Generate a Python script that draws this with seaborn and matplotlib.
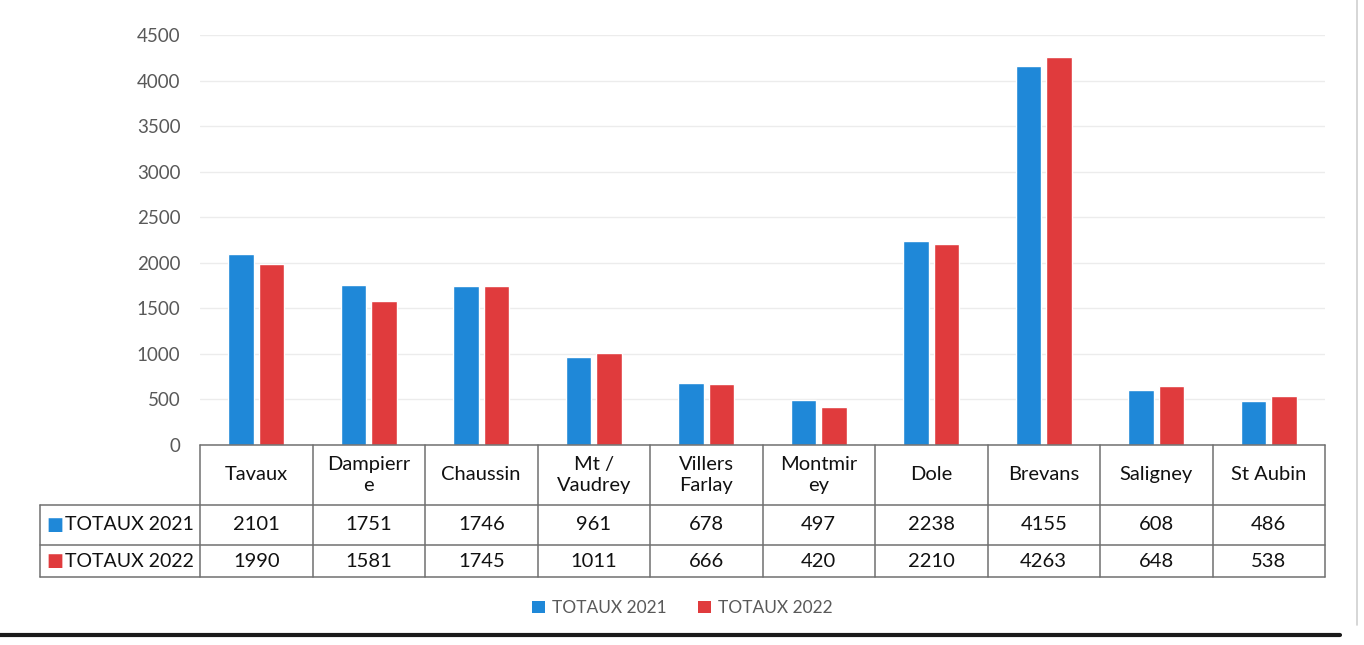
import matplotlib
matplotlib.use("Agg")
import matplotlib.pyplot as plt
import matplotlib.transforms as mtransforms
from matplotlib.lines import Line2D
from matplotlib.patches import Patch
import seaborn as sns
import pandas as pd

categories = ["Tavaux", "Dampierr\ne", "Chaussin", "Mt /\nVaudrey", "Villers\nFarlay",
              "Montmir\ney", "Dole", "Brevans", "Saligney", "St Aubin"]
series_names = ["TOTAUX 2021", "TOTAUX 2022"]
totaux_2021 = [2101, 1751, 1746, 961, 678, 497, 2238, 4155, 608, 486]
totaux_2022 = [1990, 1581, 1745, 1011, 666, 420, 2210, 4263, 648, 538]
y_ticks = [0, 500, 1000, 1500, 2000, 2500, 3000, 3500, 4000, 4500]

colors = ["#1F88D8", "#E03B3D"]

sns.set_theme(style="white")
plt.rcParams["font.family"] = ["Lato", "DejaVu Sans"]

df = pd.DataFrame({
    "cat": categories * 2,
    "serie": [series_names[0]] * len(categories) + [series_names[1]] * len(categories),
    "val": totaux_2021 + totaux_2022,
})

fig = plt.figure(figsize=(13.64, 6.45), dpi=100)
fig.patch.set_facecolor("white")
ax = fig.add_axes([200 / 1364, 200 / 645, 1125 / 1364, 410 / 645])

sns.barplot(data=df, x="cat", y="val", hue="serie", hue_order=series_names,
            order=categories, palette=colors, width=0.54, gap=0.16,
            saturation=1, legend=False, ax=ax, errorbar=None)

ax.set_xlim(-0.5, len(categories) - 0.5)
ax.set_ylim(0, 4500)
ax.set_yticks(y_ticks)
ax.set_yticklabels([str(t) for t in y_ticks], color="#595959", fontsize=13.5)
ax.tick_params(axis="y", length=0, pad=14)
ax.set_xticks([])
ax.set_xlabel("")
ax.set_ylabel("")
for s in ax.spines.values():
    s.set_visible(False)
ax.yaxis.grid(True, color="#ececec", linewidth=1)
ax.set_axisbelow(True)

# data table below the plot
tr = mtransforms.blended_transform_factory(ax.transData, ax.transAxes)
n = len(categories)
y_top = 0.0
y_head = -0.1463
y_r1 = -0.2439
y_r2 = -0.322
x_left_lab = -1.922
lc = "#707070"
lw = 1.1

def hline(x0, x1, y):
    ax.add_line(Line2D([x0, x1], [y, y], transform=tr, color=lc, lw=lw, clip_on=False))

def vline(x, y0, y1):
    ax.add_line(Line2D([x, x], [y0, y1], transform=tr, color=lc, lw=lw, clip_on=False))

hline(-0.5, n - 0.5, y_top)
hline(x_left_lab, n - 0.5, y_head)
hline(x_left_lab, n - 0.5, y_r1)
hline(x_left_lab, n - 0.5, y_r2)
for i in range(n + 1):
    vline(i - 0.5, y_top, y_r2)
vline(x_left_lab, y_head, y_r2)

fs = 14.5
for i, c in enumerate(categories):
    ax.text(i, (y_top + y_head) / 2, c, transform=tr, ha="center", va="center",
            fontsize=fs, color="#111111", linespacing=1.35)
    ax.text(i, (y_head + y_r1) / 2, str(totaux_2021[i]), transform=tr, ha="center",
            va="center", fontsize=fs, color="#111111")
    ax.text(i, (y_r1 + y_r2) / 2, str(totaux_2022[i]), transform=tr, ha="center",
            va="center", fontsize=fs, color="#111111")

for name, col, (ya, yb) in zip(series_names, colors, [(y_head, y_r1), (y_r1, y_r2)]):
    ym = (ya + yb) / 2
    ax.text(-1.87, ym, "■", transform=tr, ha="left", va="center", fontsize=13,
            color=col, family="DejaVu Sans")
    ax.text(-1.70, ym, name, transform=tr, ha="left", va="center", fontsize=14,
            color="#111111")

# legend
handles = [Patch(facecolor=c, edgecolor="none") for c in colors]
leg = fig.legend(handles, series_names, loc="center", bbox_to_anchor=(0.5, 37 / 645),
                 ncol=2, frameon=False, fontsize=12.5, handlelength=0.75, handleheight=0.75,
                 handletextpad=0.4, columnspacing=1.8)
for t in leg.get_texts():
    t.set_color("#595959")

# scan border lines
fig.add_artist(Line2D([0, 1340 / 1364], [10 / 645, 10 / 645], transform=fig.transFigure,
                      color="#1a1a1a", lw=3))
fig.add_artist(Line2D([1357 / 1364, 1357 / 1364], [20 / 645, 1], transform=fig.transFigure,
                      color="#cfcfcf", lw=1.2))

fig.savefig("out.png", dpi=100, facecolor="white")
